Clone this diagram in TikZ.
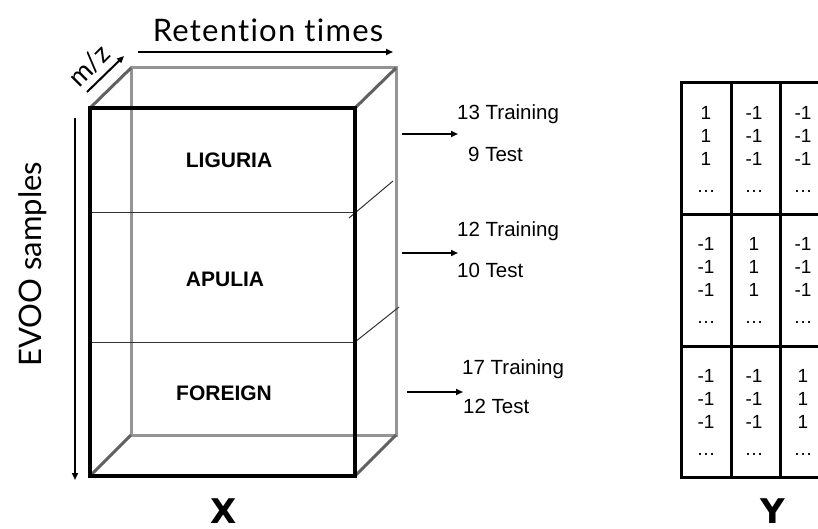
\documentclass[tikz,border=0pt]{standalone}
\usepackage{fontspec}
\setmainfont{Liberation Sans}
\newfontfamily\gillwide[LetterSpace=4,Ligatures=NoCommon]{Lato}
\newfontfamily\gill[Ligatures=NoCommon]{Lato}
\newfontfamily\heavy{DejaVu Sans}
\usetikzlibrary{arrows.meta}
\tikzset{
  backedge/.style={draw=black!42, line width=3pt},
  diagedge/.style={draw=black!62, line width=3pt},
  frontedge/.style={draw=black, line width=3.5pt, line join=miter},
  divider/.style={draw=black!80, line width=1pt},
  arr/.style={draw=black, line width=2pt, -{Triangle[length=7pt,width=6pt]}},
  region/.style={font=\fontsize{21}{24}\selectfont\bfseries},
  split/.style={font=\fontsize{20.5}{24}\selectfont, anchor=west, inner sep=0pt},
  gilltxt/.style={font=\gill\fontsize{31}{34}\selectfont, inner sep=0pt},
  cell/.style={font=\fontsize{19}{22}\selectfont, inner sep=0pt, anchor=base},
  grid/.style={draw=black, line width=3pt},
  big/.style={font=\heavy\fontsize{34}{40}\selectfont\bfseries, inner sep=0pt, anchor=base}
}
\begin{document}
\begin{tikzpicture}[x=1pt,y=-1pt]
\useasboundingbox (0,0) rectangle (818,529);
% cube corners
\coordinate (FTL) at (90,108);
\coordinate (FTR) at (355,108);
\coordinate (FBL) at (90,476);
\coordinate (FBR) at (355,476);
\coordinate (BTL) at (131,68);
\coordinate (BTR) at (396,68);
\coordinate (BBL) at (131,435);
\coordinate (BBR) at (396,435);
% back edges
\draw[backedge] (BTL) -- (BTR) -- (BBR) -- (BBL) -- cycle;
% depth edges
\draw[diagedge] (FTL) -- (BTL);
\draw[diagedge] (FTR) -- (BTR);
\draw[diagedge] (FBL) -- (BBL);
\draw[diagedge] (FBR) -- (BBR);
% dividers
\coordinate (D1a) at (90,213);
\coordinate (D1b) at (355,213);
\coordinate (D1c) at (349,218);
\coordinate (D1d) at (393,181);
\coordinate (D2a) at (90,342);
\coordinate (D2b) at (355,342);
\coordinate (D2c) at (355,342);
\coordinate (D2d) at (399,307);
\draw[divider] (D1a) -- (D1b);
\draw[divider] (D1c) -- (D1d);
\draw[divider] (D2a) -- (D2b);
\draw[divider] (D2c) -- (D2d);
% front face
\draw[frontedge] (FTL) rectangle (FBR);
% region labels
\node[region] (lig) at (229,160) {LIGURIA};
\node[region] (apu) at (225,279) {APULIA};
\node[region] (for) at (224,393) {FOREIGN};
% axis labels
\node[gilltxt, font=\gillwide\fontsize{31}{34}\selectfont, anchor=base] (rt) at (268,41.5) {Retention times};
\coordinate (rtA) at (138,52);
\coordinate (rtB) at (393,52);
\draw[arr] (rtA) -- (rtB);
\node[gilltxt, rotate=45, font=\gill\fontsize{27}{30}\selectfont] (mz) at (89,66) {m/z};
\coordinate (mzA) at (87,92);
\coordinate (mzB) at (124,56);
\draw[arr] (mzA) -- (mzB);
\node[gilltxt, rotate=90, anchor=base] (evoo) at (41,264) {EVOO samples};
\coordinate (evA) at (75,118);
\coordinate (evB) at (75,480);
\draw[arr] (evA) -- (evB);
% splits
\coordinate (s1a) at (402,134); \coordinate (s1b) at (458,134);
\coordinate (s2a) at (402,253); \coordinate (s2b) at (458,253);
\coordinate (s3a) at (407,392); \coordinate (s3b) at (463,392);
\draw[arr] (s1a) -- (s1b);
\draw[arr] (s2a) -- (s2b);
\draw[arr] (s3a) -- (s3b);
\node[split] (t1) at (457,114) {13 Training};
\node[split] (e1) at (468,154) {9 Test};
\node[split] (t2) at (457,231) {12 Training};
\node[split] (e2) at (457,270) {10 Test};
\node[split] (t3) at (462,369) {17 Training};
\node[split] (e3) at (463,406) {12 Test};
% Y matrix grid
\coordinate (g00) at (681,83);
\coordinate (g0r) at (818,83);
\coordinate (g10) at (681,215);
\coordinate (g1r) at (818,215);
\coordinate (g20) at (681,346);
\coordinate (g2r) at (818,346);
\coordinate (g30) at (681,477);
\coordinate (g3r) at (818,477);
\coordinate (c1t) at (731,83);
\coordinate (c1b) at (731,477);
\coordinate (c2t) at (780,83);
\coordinate (c2b) at (780,477);
\draw[grid] (g0r) -- (g00) -- (g30) -- (g3r);
\draw[grid] (g10) -- (g1r);
\draw[grid] (g20) -- (g2r);
\draw[grid] (c1t) -- (c1b);
\draw[grid] (c2t) -- (c2b);
% matrix entries
\foreach \blk/\yy/\a/\b/\c in {0/120/1/-1/-1, 1/250/-1/1/-1, 2/382/-1/-1/1}{
  \foreach \r in {0,1,2}{
    \node[cell] (m\blk\r a) at (706,\yy+23*\r) {\a};
    \node[cell] (m\blk\r b) at (754,\yy+23*\r) {\b};
    \node[cell] (m\blk\r c) at (803,\yy+23*\r) {\c};
  }
  \node[cell] (d\blk a) at (706,\yy+73) {\dots};
  \node[cell] (d\blk b) at (754,\yy+73) {\dots};
  \node[cell] (d\blk c) at (803,\yy+73) {\dots};
}
% matrix names
\node[big] (X) at (224,523) {X};
\node[big] (Y) at (773,523) {Y};
\end{tikzpicture}
\end{document}
